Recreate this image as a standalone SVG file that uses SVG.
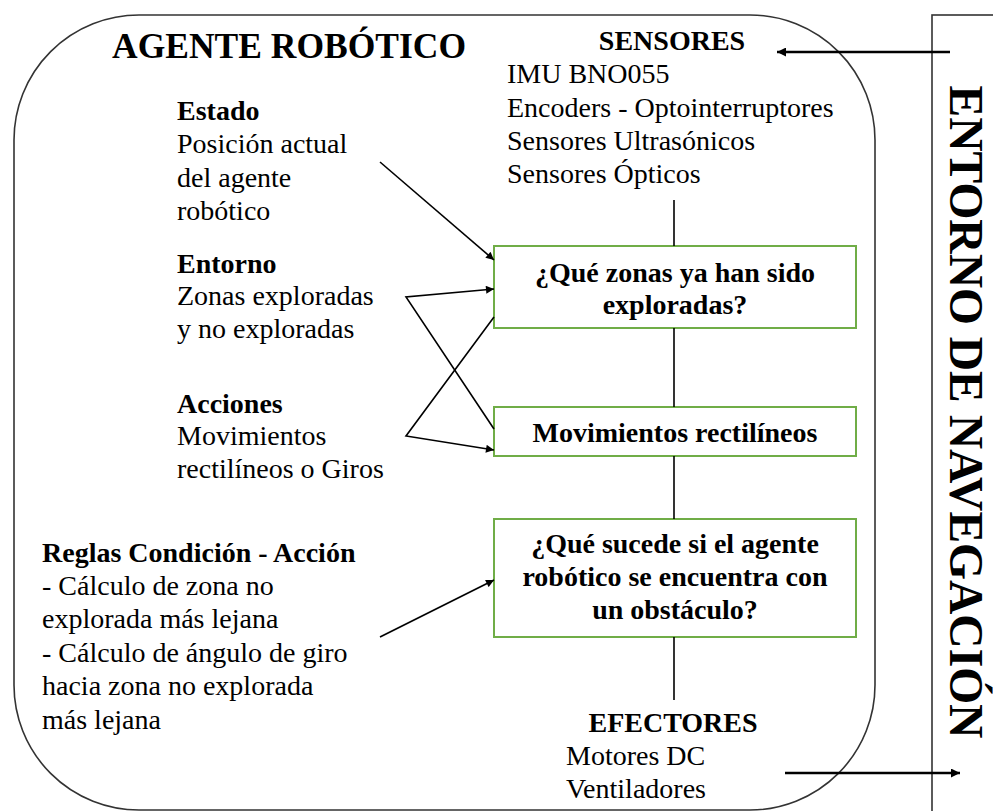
<svg xmlns="http://www.w3.org/2000/svg" width="993" height="811" viewBox="0 0 993 811">
<style>
text{font-family:"Liberation Serif","Times New Roman",serif;fill:#000}
.b{font-weight:bold;font-size:28px}
.r{font-size:28px}
.t{font-weight:bold;font-size:35.5px}
.box{fill:#fff;stroke:#70AD47;stroke-width:2}
.ln{stroke:#000;stroke-width:1.6;fill:none}
.arr{stroke:#000;stroke-width:1.6;fill:none;marker-end:url(#ah)}
.arr2{stroke:#000;stroke-width:2.6;fill:none;marker-end:url(#ah2)}
</style>
<defs>
<marker id="ah" viewBox="0 0 10 10" refX="10" refY="5" markerWidth="10" markerHeight="8" markerUnits="userSpaceOnUse" orient="auto"><path d="M0,0 L10,5 L0,10 z" fill="#000"/></marker>
<marker id="ah2" viewBox="0 0 10 10" refX="10" refY="5" markerWidth="11" markerHeight="9" markerUnits="userSpaceOnUse" orient="auto"><path d="M0,0 L10,5 L0,10 z" fill="#000"/></marker>
</defs>
<rect width="993" height="811" fill="#fff"/>
<g id="agente">
<rect x="14" y="15" width="861" height="795" rx="125" ry="125" fill="none" stroke="#333" stroke-width="1.6"/>
<text class="t" x="112" y="58">AGENTE ROBÓTICO</text>
</g>
<g id="entorno-navegacion">
<rect x="932" y="15" width="80" height="820" fill="none" stroke="#333" stroke-width="1.6"/>
<text class="b" style="font-size:47.5px" text-anchor="middle" transform="translate(950,412) rotate(90)">ENTORNO DE NAVEGACIÓN</text>
</g>
<g id="sensores">
<text class="b" x="672" y="50" text-anchor="middle">SENSORES</text>
<text class="r" x="507" y="83">IMU BNO055</text>
<text class="r" x="507" y="117">Encoders - Optointerruptores</text>
<text class="r" x="507" y="150">Sensores Ultrasónicos</text>
<text class="r" x="507" y="183">Sensores Ópticos</text>
</g>
<g id="estado">
<text class="b" x="177" y="120">Estado</text>
<text class="r" x="177" y="153">Posición actual</text>
<text class="r" x="177" y="187">del agente</text>
<text class="r" x="177" y="220">robótico</text>
</g>
<g id="entorno">
<text class="b" x="177" y="273">Entorno</text>
<text class="r" x="177" y="305">Zonas exploradas</text>
<text class="r" x="177" y="338">y no exploradas</text>
</g>
<g id="acciones">
<text class="b" x="177" y="413">Acciones</text>
<text class="r" x="177" y="445">Movimientos</text>
<text class="r" x="177" y="478">rectilíneos o Giros</text>
</g>
<g id="reglas">
<text class="b" x="42" y="562">Reglas Condición - Acción</text>
<text class="r" x="42" y="595">- Cálculo de zona no</text>
<text class="r" x="42" y="628">explorada más lejana</text>
<text class="r" x="42" y="662">- Cálculo de ángulo de giro</text>
<text class="r" x="42" y="695">hacia zona no explorada</text>
<text class="r" x="42" y="729">más lejana</text>
</g>
<g id="box1">
<rect class="box" x="494" y="246" width="362" height="82"/>
<text class="b" x="675" y="282" text-anchor="middle">¿Qué zonas ya han sido</text>
<text class="b" x="675" y="314" text-anchor="middle">exploradas?</text>
</g>
<g id="box2">
<rect class="box" x="494" y="407" width="362" height="49"/>
<text class="b" x="675" y="442" text-anchor="middle">Movimientos rectilíneos</text>
</g>
<g id="box3">
<rect class="box" x="494" y="519" width="362" height="118"/>
<text class="b" x="675" y="553" text-anchor="middle">¿Qué sucede si el agente</text>
<text class="b" x="675" y="586" text-anchor="middle">robótico se encuentra con</text>
<text class="b" x="675" y="619" text-anchor="middle">un obstáculo?</text>
</g>
<g id="efectores">
<text class="b" x="673" y="732" text-anchor="middle">EFECTORES</text>
<text class="r" x="566" y="765">Motores DC</text>
<text class="r" x="566" y="798">Ventiladores</text>
</g>
<g id="connectors">
<line class="ln" x1="674" y1="200" x2="674" y2="246"/>
<line class="ln" x1="674" y1="328" x2="674" y2="407"/>
<line class="ln" x1="674" y1="456" x2="674" y2="519"/>
<line class="ln" x1="674" y1="637" x2="674" y2="700"/>
<line class="arr" x1="380" y1="162" x2="494" y2="260"/>
<polyline class="arr" points="494,429 406,297 494,289"/>
<polyline class="arr" points="494,317 406,436 494,450"/>
<line class="arr" x1="380" y1="637" x2="494" y2="580"/>
<line class="arr2" x1="950" y1="52" x2="777" y2="52"/>
<line class="arr2" x1="785" y1="773" x2="960" y2="773"/>
</g>
</svg>
